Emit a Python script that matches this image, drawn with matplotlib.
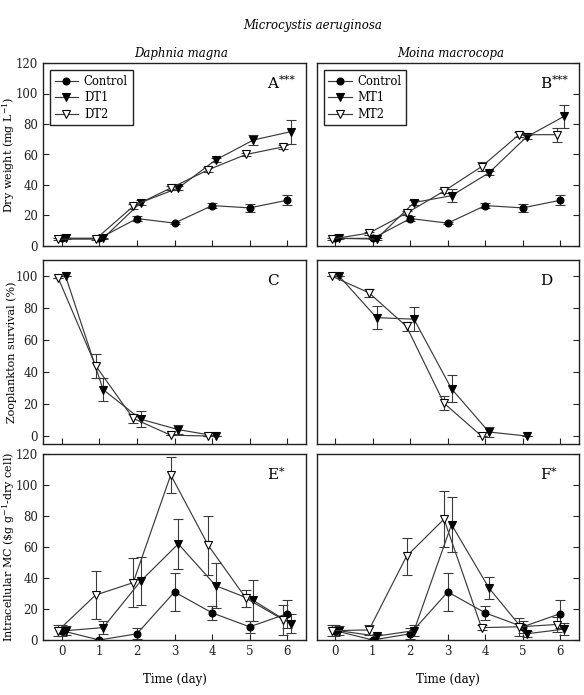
import numpy as np
import matplotlib
matplotlib.use("Agg")
import matplotlib.pyplot as plt
from matplotlib.lines import Line2D

plt.rcParams['font.family'] = ['DejaVu Serif']
plt.rcParams['mathtext.fontset'] = 'dejavuserif'

days = [0, 1, 2, 3, 4, 5, 6]

# Dry weight (mg L-1)
dw_ctrl = [5, 5, 18, 15, 26.5, 25, 30]
dw_ctrl_err = [0.5, 0.5, 1.5, 0.5, 1.5, 2.6, 3.2]
dw_dt1 = [5, 5, 28.5, 38, 56.5, 69.5, 75]
dw_dt1_err = [0.5, 0.5, 1.5, 1.5, 1.5, 3, 7.8]
dw_dt2 = [4.5, 4.5, 26, 38, 50, 60, 65]
dw_dt2_err = [0.5, 0.5, 1.5, 1.5, 1.5, 1, 1.5]
dw_mt1 = [5, 4.5, 28.5, 33, 48, 71.5, 85]
dw_mt1_err = [0.5, 0.5, 1.5, 4.3, 1.5, 1.5, 7.7]
dw_mt2 = [4.5, 8.5, 21.5, 36, 52, 73, 73]
dw_mt2_err = [0.5, 1, 1.5, 1.5, 3, 1.5, 4.6]

# Zooplankton survival (%)
sv_dt1_days = [0, 1, 2, 3, 4]
sv_dt1 = [100, 29, 10.5, 4, 0]
sv_dt1_err = [0, 7, 5, 3, 0]
sv_dt2_days = [0, 1, 2, 3, 4]
sv_dt2 = [99, 44, 11, 0.5, 0]
sv_dt2_err = [0, 7.5, 3, 0, 0]
sv_mt1_days = [0, 1, 2, 3, 4, 5]
sv_mt1 = [100, 74, 73, 29.5, 2.5, 0]
sv_mt1_err = [0, 7, 7.5, 8.5, 3, 0]
sv_mt2_days = [0, 1, 2, 3, 4]
sv_mt2 = [100, 89.5, 68.5, 20.5, 0]
sv_mt2_err = [0, 2.5, 3, 4.5, 0]

# Intracellular MC
mc_ctrl = [6, 0, 4, 31, 17.5, 8.5, 17]
mc_ctrl_err = [3.5, 0.5, 3.5, 12.5, 4.5, 4, 9]
mc_dt1 = [6, 8, 38, 62, 35, 25.5, 10.5]
mc_dt1_err = [3, 4, 15.5, 16, 14.5, 13, 6]
mc_dt2 = [6, 29, 37, 106.5, 61, 27, 13]
mc_dt2_err = [3.5, 15.5, 16, 11.5, 19, 5.5, 9.5]
mc_mt1 = [6, 2.5, 6, 74.5, 33.5, 4, 7]
mc_mt1_err = [3, 1.5, 3.5, 18, 7, 2, 4]
mc_mt2 = [6, 6.5, 54, 78, 8, 8.5, 10]
mc_mt2_err = [3.5, 3.5, 12, 18, 1.5, 6, 5]

W, H = 584, 695
fig = plt.figure(figsize=(W / 100, H / 100), dpi=100)

def frac(x0, x1, ytop, ybot):
    return [x0 / W, 1 - ybot / H, (x1 - x0) / W, (ybot - ytop) / H]

cols = [(43, 306), (316.5, 579)]
rows = [(63, 246), (260, 444), (454, 640)]

LC = '#3a3a3a'
FS = 8.5
OFF = 0.1

STY = {'ctrl': ('o', 'black', 5), 't1': ('v', 'black', 6), 't2': ('v', 'white', 6)}

def series(ax, x, y, e, kind, dx=0.0):
    xs = np.asarray(x, float) + dx
    m, fc, ms = STY[kind]
    ax.errorbar(xs, y, yerr=e, color=LC, lw=0.85, elinewidth=0.8, capsize=3.5,
                capthick=0.8, marker=m, mfc=fc, mec='black', mew=0.8, ms=ms,
                ecolor=LC)

def handles():
    return [Line2D([], [], color=LC, lw=0.85, marker=STY[k][0], mfc=STY[k][1],
                   mec='black', mew=0.8, ms=STY[k][2]) for k in ('ctrl', 't1', 't2')]

axes = {}
for r in range(3):
    for c in range(2):
        ax = fig.add_axes(frac(cols[c][0], cols[c][1], rows[r][0], rows[r][1]))
        axes[(r, c)] = ax
        ax.set_xlim(-0.5, 6.5)
        ax.set_xticks(days)
        for s in ax.spines.values():
            s.set_linewidth(1.0)
            s.set_color('#222222')
        ax.tick_params(direction='in', length=4, width=0.8, labelsize=FS,
                       colors='#222222')
        if c == 1:
            ax.tick_params(axis='y', left=False, right=True, labelleft=False)
        if r < 2:
            ax.tick_params(axis='x', labelbottom=False)
        else:
            ax.set_xlabel('Time (day)', fontsize=FS, labelpad=11)

leg_kw = dict(loc='upper left', fontsize=8.4, fancybox=False, edgecolor='#222222',
              framealpha=1, handlelength=2.0, borderaxespad=0.6, labelspacing=0.3,
              handletextpad=0.5, borderpad=0.4)

# Row A/B: dry weight
for c in range(2):
    ax = axes[(0, c)]
    ax.set_ylim(0, 120)
    ax.set_yticks([0, 20, 40, 60, 80, 100, 120])
ax = axes[(0, 0)]
series(ax, days, dw_ctrl, dw_ctrl_err, 'ctrl')
series(ax, days, dw_dt1, dw_dt1_err, 't1', OFF)
series(ax, days, dw_dt2, dw_dt2_err, 't2', -OFF)
ax.legend(handles(), ['Control', 'DT1', 'DT2'], **leg_kw)
ax.set_ylabel('Dry weight (mg L$^{-1}$)', fontsize=8)
ax = axes[(0, 1)]
series(ax, days, dw_ctrl, dw_ctrl_err, 'ctrl')
series(ax, days, dw_mt1, dw_mt1_err, 't1', OFF)
series(ax, days, dw_mt2, dw_mt2_err, 't2', -OFF)
ax.legend(handles(), ['Control', 'MT1', 'MT2'], **leg_kw)

# Row C/D: survival
for c in range(2):
    ax = axes[(1, c)]
    ax.set_ylim(-5, 110)
    ax.set_yticks([0, 20, 40, 60, 80, 100])
ax = axes[(1, 0)]
series(ax, sv_dt1_days, sv_dt1, sv_dt1_err, 't1', OFF)
series(ax, sv_dt2_days, sv_dt2, sv_dt2_err, 't2', -OFF)
ax.set_ylabel('Zooplankton survival (%)', fontsize=8)
ax = axes[(1, 1)]
series(ax, sv_mt1_days, sv_mt1, sv_mt1_err, 't1', OFF)
series(ax, sv_mt2_days, sv_mt2, sv_mt2_err, 't2', -OFF)

# Row E/F: intracellular MC
for c in range(2):
    ax = axes[(2, c)]
    ax.set_ylim(0, 120)
    ax.set_yticks([0, 20, 40, 60, 80, 100, 120])
ax = axes[(2, 0)]
series(ax, days, mc_ctrl, mc_ctrl_err, 'ctrl')
series(ax, days, mc_dt1, mc_dt1_err, 't1', OFF)
series(ax, days, mc_dt2, mc_dt2_err, 't2', -OFF)
ax.set_ylabel(r'Intracellular MC (\$g g$^{-1}$-dry cell)', fontsize=8)
ax = axes[(2, 1)]
series(ax, days, mc_ctrl, mc_ctrl_err, 'ctrl')
series(ax, days, mc_mt1, mc_mt1_err, 't1', OFF)
series(ax, days, mc_mt2, mc_mt2_err, 't2', -OFF)

labels = {(0, 0): ('A', '***'), (0, 1): ('B', '***'), (1, 0): ('C', ''),
          (1, 1): ('D', ''), (2, 0): ('E', '*'), (2, 1): ('F', '*')}
for k, (letter, stars) in labels.items():
    t = axes[k].text(0.853, 0.885, letter, transform=axes[k].transAxes,
                     fontsize=11, ha='left', va='center')
    if stars:
        axes[k].annotate(stars, xy=(1.02, 0.78), xycoords=t, fontsize=8,
                         ha='left', va='center')

# y labels: right edge of rotated text near x=17 px
for r in range(3):
    axes[(r, 0)].yaxis.set_label_coords((17 - 43) / 263, 0.5)

fig.text(313 / W, 1 - 25 / H, 'Microcystis aeruginosa', style='italic',
         fontsize=FS, ha='center', va='center')
fig.text(181 / W, 1 - 53 / H, 'Daphnia magna', style='italic',
         fontsize=FS, ha='center', va='center')
fig.text(451 / W, 1 - 53 / H, 'Moina macrocopa', style='italic',
         fontsize=FS, ha='center', va='center')

fig.savefig('out.png', dpi=100)
